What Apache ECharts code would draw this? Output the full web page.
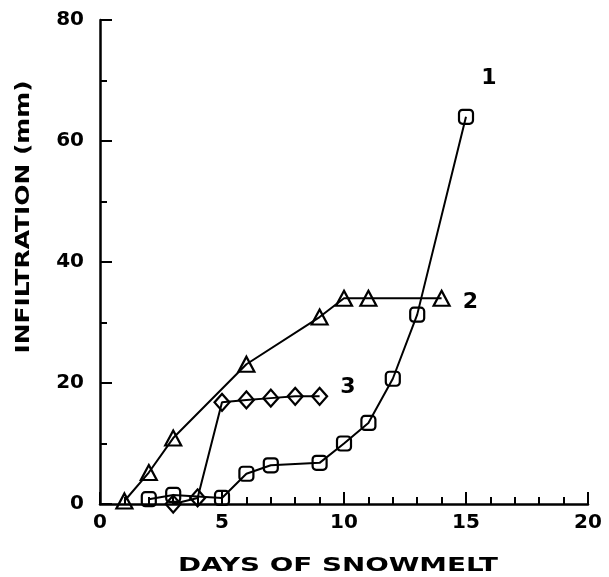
<!DOCTYPE html>
<html><head><meta charset="utf-8">
<script src="https://cdn.jsdelivr.net/npm/echarts@6/dist/echarts.min.js"></script>
<style>html,body{margin:0;padding:0;background:#fff}#c{width:609px;height:577px}</style>
</head><body><div id="c"></div>
<script>
// Data
const days1 = [2, 3, 5, 6, 7, 9, 10, 11, 12, 13, 15];
const infil1 = [0.8, 1.5, 1, 5, 6.4, 6.8, 10, 13.4, 20.7, 31.3, 64];
const days2 = [1, 2, 3, 6, 9, 10, 11, 14];
const infil2 = [0.5, 5.2, 10.9, 23.1, 30.9, 34, 34, 34];
const days3 = [3, 4, 5, 6, 7, 8, 9];
const infil3 = [0, 1, 16.8, 17.2, 17.5, 17.8, 17.8];
const seriesNames = ['1', '2', '3'];
const xTitle = 'DAYS OF SNOWMELT';
const yTitle = 'INFILTRATION (mm)';

const FONT = '"DejaVu Sans", sans-serif';
function measure(text, size) {
  const cv = document.createElement('canvas').getContext('2d');
  cv.font = 'bold ' + size + 'px "DejaVu Sans"';
  return cv.measureText(text).width;
}
const zip = (xs, ys) => xs.map((x, i) => [x, ys[i]]);

const chart = echarts.init(document.getElementById('c'));
const lineStyle = { color: '#000', width: 2 };
const itemStyle = { color: 'rgba(255,255,255,0)', borderColor: '#000', borderWidth: 2.2 };
function lastLabel(data, text, opts) {
  return data.map((d, i) => i === data.length - 1 ? {
    value: d,
    label: Object.assign({ show: true, formatter: text, color: '#000', fontFamily: FONT, fontWeight: 'bold', fontSize: 22 }, opts)
  } : d);
}
const xTitleSize = 20, yTitleSize = 20;
chart.setOption({
  animation: false,
  backgroundColor: '#fff',
  grid: { left: 100, right: 21, top: 20, bottom: 73 },
  xAxis: {
    type: 'value', min: 0, max: 20, interval: 5,
    axisLine: { lineStyle: { color: '#000', width: 2.5 } },
    axisTick: { inside: true, length: 12, lineStyle: { color: '#000', width: 2 } },
    minorTick: { show: true, splitNumber: 5, length: 7, lineStyle: { color: '#000', width: 2 } },
    splitLine: { show: false },
    axisLabel: { color: '#000', fontFamily: FONT, fontWeight: 'bold', fontSize: 20, margin: 9 }
  },
  yAxis: {
    type: 'value', min: 0, max: 80, interval: 20,
    axisLine: { lineStyle: { color: '#000', width: 2.5 } },
    axisTick: { inside: true, length: 12, lineStyle: { color: '#000', width: 2 } },
    minorTick: { show: true, splitNumber: 2, length: 7, lineStyle: { color: '#000', width: 2 } },
    splitLine: { show: false },
    axisLabel: { color: '#000', fontFamily: FONT, fontWeight: 'bold', fontSize: 20, margin: 16 }
  },
  series: [
    { name: seriesNames[0], type: 'line', data: lastLabel(zip(days1, infil1), seriesNames[0], { position: 'top', offset: [23, -14] }),
      symbol: 'roundRect', symbolSize: 14, lineStyle, itemStyle, z: 3 },
    { name: seriesNames[1], type: 'line', data: lastLabel(zip(days2, infil2), seriesNames[1], { position: 'right', distance: 12, offset: [0, 4] }),
      symbol: 'triangle', symbolSize: [16, 15], lineStyle, itemStyle, z: 2 },
    { name: seriesNames[2], type: 'line', data: lastLabel(zip(days3, infil3), seriesNames[2], { position: 'right', distance: 12, offset: [0, -9] }),
      symbol: 'diamond', symbolSize: [15, 17], lineStyle, itemStyle, z: 2 }
  ],
  graphic: [
    { type: 'text', x: 338, y: 566, scaleX: 320 / measure(xTitle, xTitleSize),
      style: { text: xTitle, fill: '#000', font: 'bold ' + xTitleSize + 'px "DejaVu Sans"', align: 'center', verticalAlign: 'middle' } },
    { type: 'text', x: 24, y: 217, rotation: Math.PI / 2, scaleX: 273 / measure(yTitle, yTitleSize),
      style: { text: yTitle, fill: '#000', font: 'bold ' + yTitleSize + 'px "DejaVu Sans"', align: 'center', verticalAlign: 'middle' } }
  ]
});
</script></body></html>
